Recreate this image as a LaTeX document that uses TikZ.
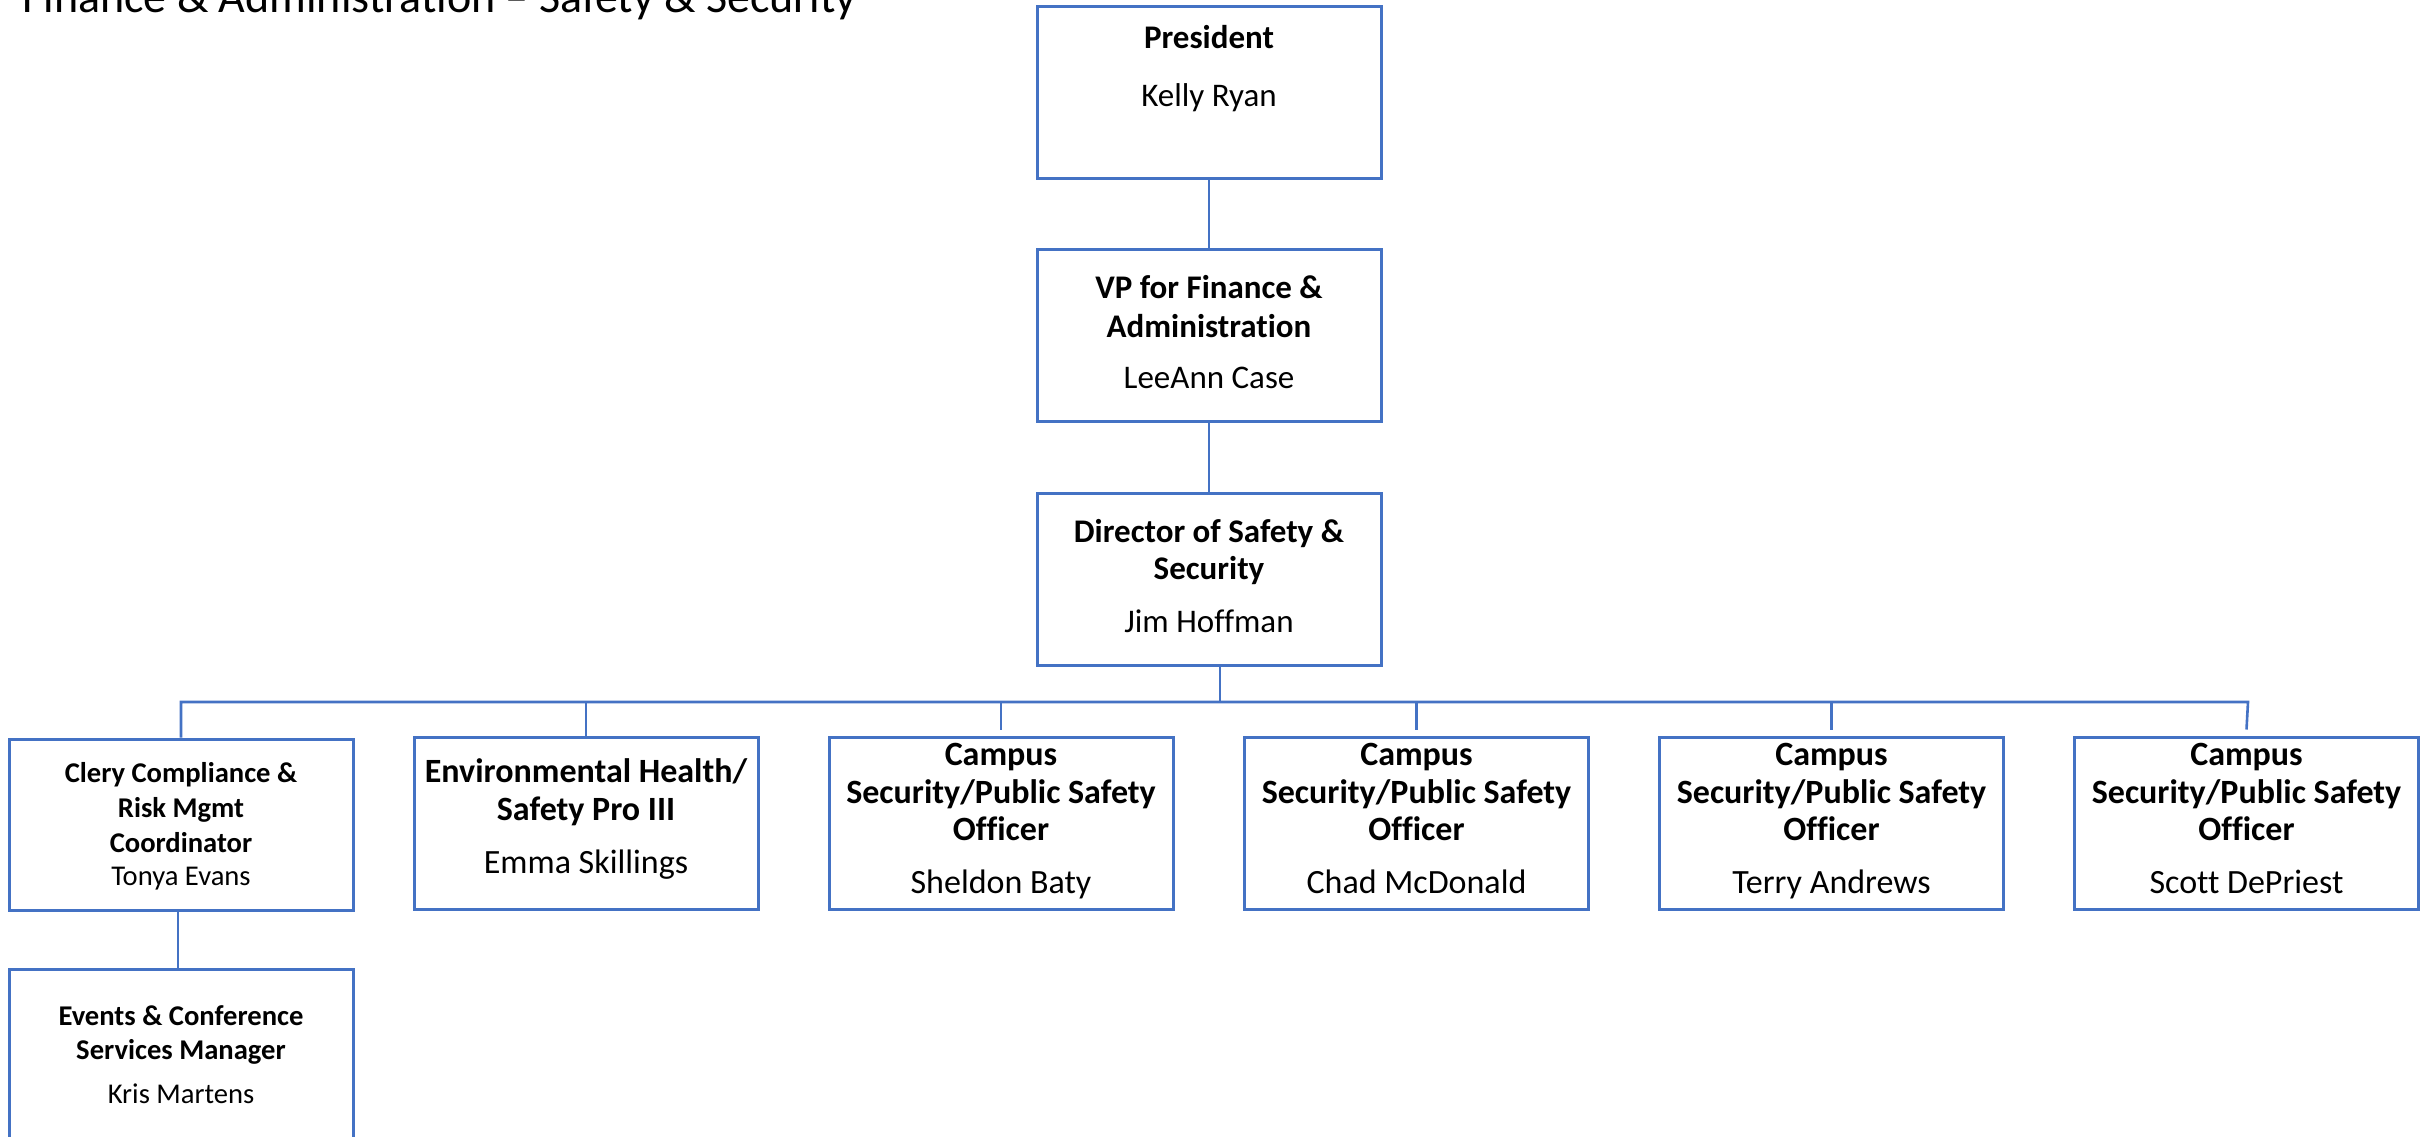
\documentclass[tikz,border=0pt]{standalone}
\usepackage{fontspec}
\setmainfont{Carlito}[Ligatures=NoCommon]
\definecolor{lnblue}{HTML}{4472C4}
\begin{document}
\begin{tikzpicture}[x=0.5pt,y=-0.5pt,
 box/.style={draw=lnblue,line width=1.5pt,inner sep=0pt,minimum width=172pt,minimum height=86pt},
 wire/.style={draw=lnblue,line width=1.3pt},
 txt/.style={anchor=base,inner sep=0pt},
 bigb/.style={txt,font=\fontsize{16.5}{18}\selectfont\bfseries},
 bign/.style={txt,font=\fontsize{16.5}{18}\selectfont},
 rowb/.style={txt,font=\fontsize{17}{18}\selectfont\bfseries},
 rown/.style={txt,font=\fontsize{17}{18}\selectfont},
 smb/.style={txt,font=\fontsize{14.3}{16}\selectfont\bfseries},
 smn/.style={txt,font=\fontsize{14.3}{16}\selectfont},
]
\useasboundingbox (0,0) rectangle (2432,1136);

% title
\node[anchor=base west,inner sep=0pt,font=\fontsize{23}{26}\selectfont] (title) at (22,12) {Finance \& Administration -- Safety \& Security};

% boxes
\node[box] (pres) at (1209,92) {};
\node[box] (vp) at (1209,335.5) {};
\node[box] (dir) at (1209,579) {};
\node[box,minimum height=85.5pt] (clery) at (181,824.5) {};
\node[box] (env) at (586,823) {};
\node[box] (sheldon) at (1001,823) {};
\node[box] (chad) at (1416.5,823) {};
\node[box] (terry) at (1831.5,823) {};
\node[box] (scott) at (2246.5,823) {};
\node[box,minimum height=115.5pt] (events) at (181,1084.5) {};

% texts
\node[bigb] (pres1) at (1209,48) {President};
\node[bign] (pres2) at (1209,106) {Kelly Ryan};

\node[bigb] (vp1) at (1209,298) {VP for Finance \&};
\node[bigb] (vp2) at (1209,337) {Administration};
\node[bign] (vp3) at (1209,388) {LeeAnn Case};

\node[bigb] (dir1) at (1209,542) {Director of Safety \&};
\node[bigb] (dir2) at (1209,579) {Security};
\node[bign] (dir3) at (1209,632) {Jim Hoffman};

\node[smb] (cl1) at (181,782) {Clery Compliance \&};
\node[smb] (cl2) at (181,817) {Risk Mgmt};
\node[smb] (cl3) at (181,852) {Coordinator};
\node[smn] (cl4) at (181,885) {Tonya Evans};

\node[rowb] (en1) at (586,782) {Environmental Health/};
\node[rowb] (en2) at (586,820) {Safety Pro III};
\node[rown] (en3) at (586,873) {Emma Skillings};

\node[rowb] (sh1) at (1001,765) {Campus};
\node[rowb] (sh2) at (1001,803) {Security/Public Safety};
\node[rowb] (sh3) at (1001,840) {Officer};
\node[rown] (sh4) at (1001,893) {Sheldon Baty};

\node[rowb] (ch1) at (1416.5,765) {Campus};
\node[rowb] (ch2) at (1416.5,803) {Security/Public Safety};
\node[rowb] (ch3) at (1416.5,840) {Officer};
\node[rown] (ch4) at (1416.5,893) {Chad McDonald};

\node[rowb] (te1) at (1831.5,765) {Campus};
\node[rowb] (te2) at (1831.5,803) {Security/Public Safety};
\node[rowb] (te3) at (1831.5,840) {Officer};
\node[rown] (te4) at (1831.5,893) {Terry Andrews};

\node[rowb] (sc1) at (2246.5,765) {Campus};
\node[rowb] (sc2) at (2246.5,803) {Security/Public Safety};
\node[rowb] (sc3) at (2246.5,840) {Officer};
\node[rown] (sc4) at (2246.5,893) {Scott DePriest};

\node[smb] (ev1) at (181,1025) {Events \& Conference};
\node[smb] (ev2) at (181,1059) {Services Manager};
\node[smn] (ev3) at (181,1103) {Kris Martens};

% connectors
\coordinate (bL) at (180,702);
\coordinate (bR) at (2248,702);
\coordinate (d0) at ([xshift=5.5pt]dir.south);
\draw[wire] (pres.south) -- (vp.north);
\draw[wire] (vp.south) -- (dir.north);
\draw[wire] (d0) -- (d0 |- bL);
\draw[wire] (clery.north) -- (clery.north |- bL) -- (bR) -- ([yshift=3pt]scott.north);
\draw[wire] (env.north) -- (env.north |- bL);
\draw[wire] ([yshift=3pt]sheldon.north) -- (sheldon.north |- bL);
\draw[wire] ([yshift=3pt]chad.north) -- (chad.north |- bL);
\draw[wire] ([yshift=3pt]terry.north) -- (terry.north |- bL);
\draw[wire] ([xshift=-1.5pt]clery.south) -- ([xshift=-1.5pt]events.north);
\end{tikzpicture}
\end{document}
